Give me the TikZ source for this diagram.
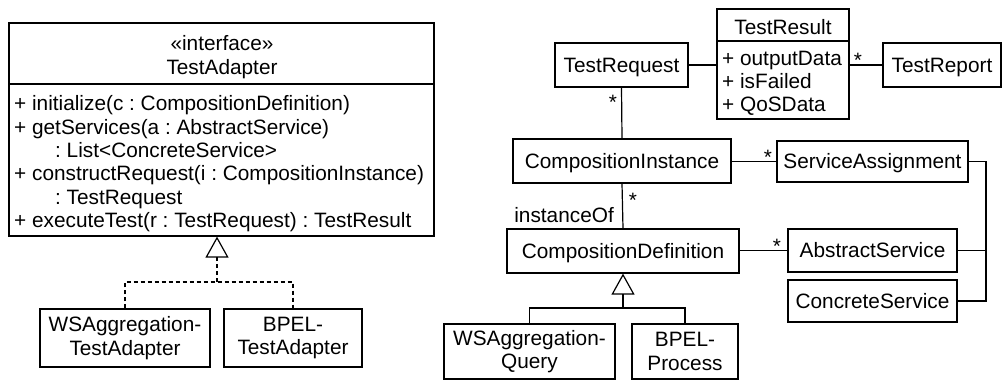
\documentclass[tikz,border=0pt]{standalone}
\usepackage{fontspec}
\setmainfont{Liberation Sans}
\usetikzlibrary{arrows.meta}
\frenchspacing
\begin{document}
\begin{tikzpicture}[x=1pt,y=-1pt,
  every node/.style={font=\fontsize{20.8}{23.5}\selectfont\frenchspacing, inner sep=0pt},
  box/.style={draw, line width=1.2pt, align=center},
  one/.style={text height=14.9pt, text depth=0pt},
  conn/.style={line width=1.2pt},
  gen/.style={line width=1.2pt, -{Triangle[open,width=23pt,length=21pt,line width=1.2pt]}},
  mult/.style={one},
  txt/.style={one, anchor=west}]
\useasboundingbox (0,0) rectangle (1003,380);
% left: TestAdapter interface
\node[box, minimum width=425pt, minimum height=213pt] (ta) at (221.5,129.5) {};
\node[one] (tast) at (222,43) {«interface»};
\node[one] (tanm) at (222,67) {TestAdapter};
\coordinate (tasep) at (0,84);
\draw[conn] (ta.west |- tasep) -- (ta.east |- tasep);
\node[txt] (m1) at (14,103) {+ initialize(c : CompositionDefinition)};
\node[txt] (m2) at (14,127) {+ getServices(a : AbstractService)};
\node[txt] (m3) at (55,150) {: List<ConcreteService>};
\node[txt] (m4) at (14,173) {+ constructRequest(i : CompositionInstance)};
\node[txt] (m5) at (55,197) {: TestRequest};
\node[txt] (m6) at (14,220) {+ executeTest(r : TestRequest) : TestResult};
\node[box, minimum width=170pt, minimum height=58pt] (wsta) at (125,338) {WSAggregation-\\TestAdapter};
\node[box, minimum width=138pt, minimum height=58pt] (bta) at (293,338) {BPEL-\\TestAdapter};
\coordinate (j1) at (217,282);
\draw[conn, dash pattern=on 4pt off 3pt] (wsta.north) |- (j1) -| (bta.north);
\draw[gen, dash pattern=on 4pt off 3pt] (j1) -- (j1 |- ta.south);
% right side
\node[box, one, minimum width=133pt, minimum height=44pt] (treq) at (621.5,65) {TestRequest};
\node[box, minimum width=132pt, minimum height=110pt] (tres) at (783,64) {};
\node[one] (tresn) at (783,27) {TestResult};
\coordinate (tressep) at (0,41);
\draw[conn] (tres.west |- tressep) -- (tres.east |- tressep);
\node[txt] (a1) at (722,58) {+ outputData};
\node[txt] (a2) at (722,81) {+ isFailed};
\node[txt] (a3) at (722,104) {+ QoSData};
\node[box, one, minimum width=118pt, minimum height=44pt] (trep) at (942,65) {TestReport};
\node[box, one, minimum width=218pt, minimum height=44pt] (ci) at (622,161) {CompositionInstance};
\node[box, one, minimum width=191pt, minimum height=41pt] (sa) at (872.5,161.5) {ServiceAssignment};
\node[box, one, minimum width=232pt, minimum height=44pt] (cd) at (623,251) {CompositionDefinition};
\node[box, one, minimum width=169pt, minimum height=43pt] (as) at (872.5,250.5) {AbstractService};
\node[box, one, minimum width=169pt, minimum height=42pt] (cs) at (872.5,301) {ConcreteService};
\node[box, minimum width=171pt, minimum height=55pt] (wsq) at (529.5,351.5) {WSAggregation-\\Query};
\node[box, minimum width=106pt, minimum height=55pt] (bp) at (685,351.5) {BPEL-\\Process};
% connectors
\draw[conn] (treq.east) -- (tres.west |- treq.east);
\draw[conn] (tres.east |- trep.west) -- (trep.west);
\draw[conn] (treq.south) -- (ci.north);
\draw[conn] (ci.east |- sa.west) -- (sa.west);
\draw[conn] (ci.south) -- (cd.north);
\draw[conn] (cd.east |- as.west) -- (as.west);
\coordinate (cr) at (986,301);
\draw[conn] (sa.east) -| (cr) -- (cs.east);
\draw[conn] (as.east) -- (as.east -| cr);
\coordinate (j2) at (623,308);
\draw[conn] (wsq.north) |- (j2) -| (bp.north);
\draw[gen] (j2) -- (cd.south);
% multiplicities and labels
\node[mult] (s1) at (858,60) {*};
\node[mult] (s2) at (613,102) {*};
\node[mult] (s3) at (768,157) {*};
\node[mult] (s4) at (633,200) {*};
\node[mult] (s5) at (777,246) {*};
\node[one, anchor=east] (io) at (614,215) {instanceOf};
\end{tikzpicture}
\end{document}
